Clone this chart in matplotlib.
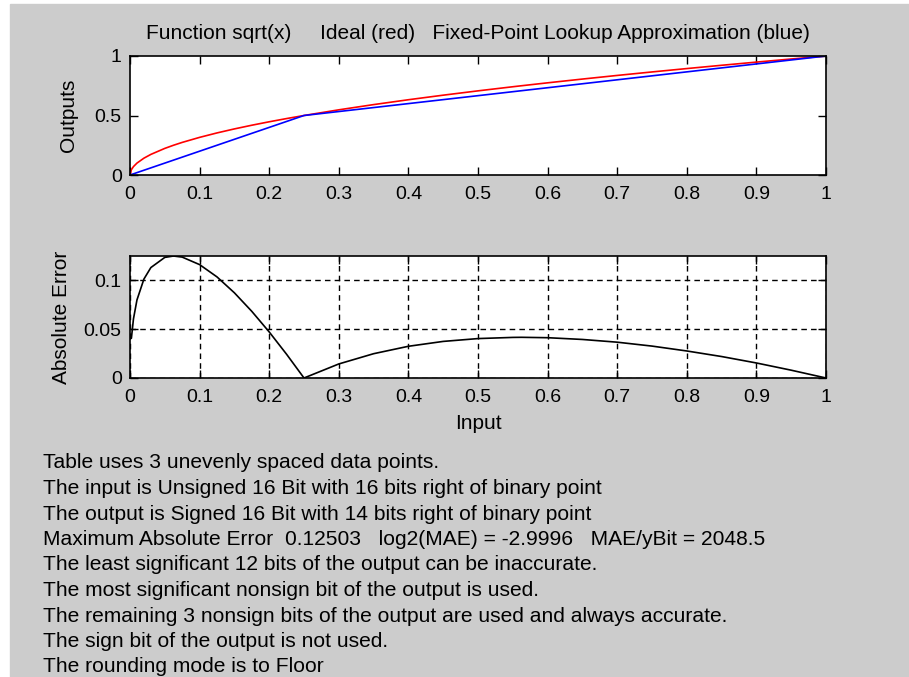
import matplotlib
matplotlib.use("Agg")
import matplotlib.pyplot as plt

plt.rcParams['font.family'] = ['Liberation Sans', 'DejaVu Sans']

# sampled inputs and the ideal sqrt outputs
x_in = [0.0, 0.002, 0.005, 0.01, 0.02, 0.03, 0.05, 0.0625, 0.075, 0.1, 0.125,
        0.15, 0.175, 0.2, 0.225, 0.25, 0.3, 0.35, 0.4, 0.45, 0.5, 0.55,
        0.5625, 0.6, 0.65, 0.7, 0.75, 0.8, 0.85, 0.9, 0.95, 1.0]
y_ideal = [0.0, 0.0447, 0.0707, 0.1, 0.1414, 0.1732, 0.2236, 0.25, 0.2739,
           0.3162, 0.3536, 0.3873, 0.4183, 0.4472, 0.4743, 0.5, 0.5477,
           0.5916, 0.6325, 0.6708, 0.7071, 0.7416, 0.75, 0.7746, 0.8062,
           0.8367, 0.866, 0.8944, 0.922, 0.9487, 0.9747, 1.0]

# lookup table breakpoints (3 unevenly spaced points)
table_x = [0.0, 0.25, 1.0]
table_y = [0.0, 0.5, 1.0]

# absolute error of the lookup vs ideal
abs_err = [0.045, 0.0407, 0.0607, 0.08, 0.1014, 0.1132, 0.1236, 0.125, 0.1239,
           0.1162, 0.1036, 0.0873, 0.0683, 0.0472, 0.0243, 0.0, 0.0144,
           0.0249, 0.0325, 0.0375, 0.0404, 0.0416, 0.0417, 0.0413, 0.0395,
           0.0367, 0.0327, 0.0277, 0.022, 0.0154, 0.008, 0.0]

xticks = [0, 0.1, 0.2, 0.3, 0.4, 0.5, 0.6, 0.7, 0.8, 0.9, 1]
xticklabels = ['0', '0.1', '0.2', '0.3', '0.4', '0.5', '0.6', '0.7', '0.8', '0.9', '1']

info_lines = [
    "Table uses 3 unevenly spaced data points.",
    "The input is Unsigned 16 Bit with 16 bits right of binary point",
    "The output is Signed 16 Bit with 14 bits right of binary point",
    "Maximum Absolute Error  0.12503   log2(MAE) = -2.9996   MAE/yBit = 2048.5",
    "The least significant 12 bits of the output can be inaccurate.",
    "The most significant nonsign bit of the output is used.",
    "The remaining 3 nonsign bits of the output are used and always accurate.",
    "The sign bit of the output is not used.",
    "The rounding mode is to Floor",
]

W, H = 909, 677
fig = plt.figure(figsize=(W / 100, H / 100), dpi=100, facecolor='white')
# grey figure panel
fig.patches.append(plt.Rectangle((10 / W, 0), 1 - 10 / W, 1 - 4 / H,
                                 transform=fig.transFigure, color='#cccccc', zorder=-10))

tick_fs = 14
lab_fs = 15

def style(ax):
    ax.set_xlim(0, 1)
    ax.set_xticks(xticks)
    ax.set_xticklabels(xticklabels)
    ax.tick_params(direction='in', length=6, width=1, top=True, right=True,
                   labelsize=tick_fs)
    ax.tick_params(axis='x', pad=8)
    ax.tick_params(axis='y', pad=6)
    for s in ax.spines.values():
        s.set_linewidth(1.2)

ax1 = fig.add_axes([130 / W, 1 - 175 / H, 696 / W, 119 / H])
ax1.plot(x_in, y_ideal, color='red', lw=1.2)
ax1.plot(table_x, table_y, color='blue', lw=1.2)
ax1.set_ylim(0, 1)
ax1.set_yticks([0, 0.5, 1])
ax1.set_yticklabels(['0', '0.5', '1'])
style(ax1)
ax1.set_ylabel('Outputs', fontsize=lab_fs)
ax1.yaxis.set_label_coords(-0.0747, 0.5)
ax1.set_title('Function sqrt(x)     Ideal (red)   Fixed-Point Lookup Approximation (blue)',
              fontsize=lab_fs, pad=12)

ax2 = fig.add_axes([130 / W, 1 - 378 / H, 696 / W, 122 / H])
ax2.plot(x_in, abs_err, color='black', lw=1.2)
ax2.set_ylim(0, 0.12503)
ax2.set_yticks([0, 0.05, 0.1])
ax2.set_yticklabels(['0', '0.05', '0.1'])
style(ax2)
ax2.grid(True, color='black', linestyle=(0, (4, 3)), linewidth=1)
ax2.set_ylabel('Absolute Error', fontsize=lab_fs)
ax2.yaxis.set_label_coords(-0.0848, 0.5)
ax2.set_xlabel('Input', fontsize=lab_fs, labelpad=6)

# summary text under the plots
for i, line in enumerate(info_lines):
    fig.text(43 / W, 1 - (463 + 25.5 * i) / H, line, fontsize=15.15,
             va='center', ha='left', color='black')

fig.savefig('out.png', dpi=100, facecolor=fig.get_facecolor())
